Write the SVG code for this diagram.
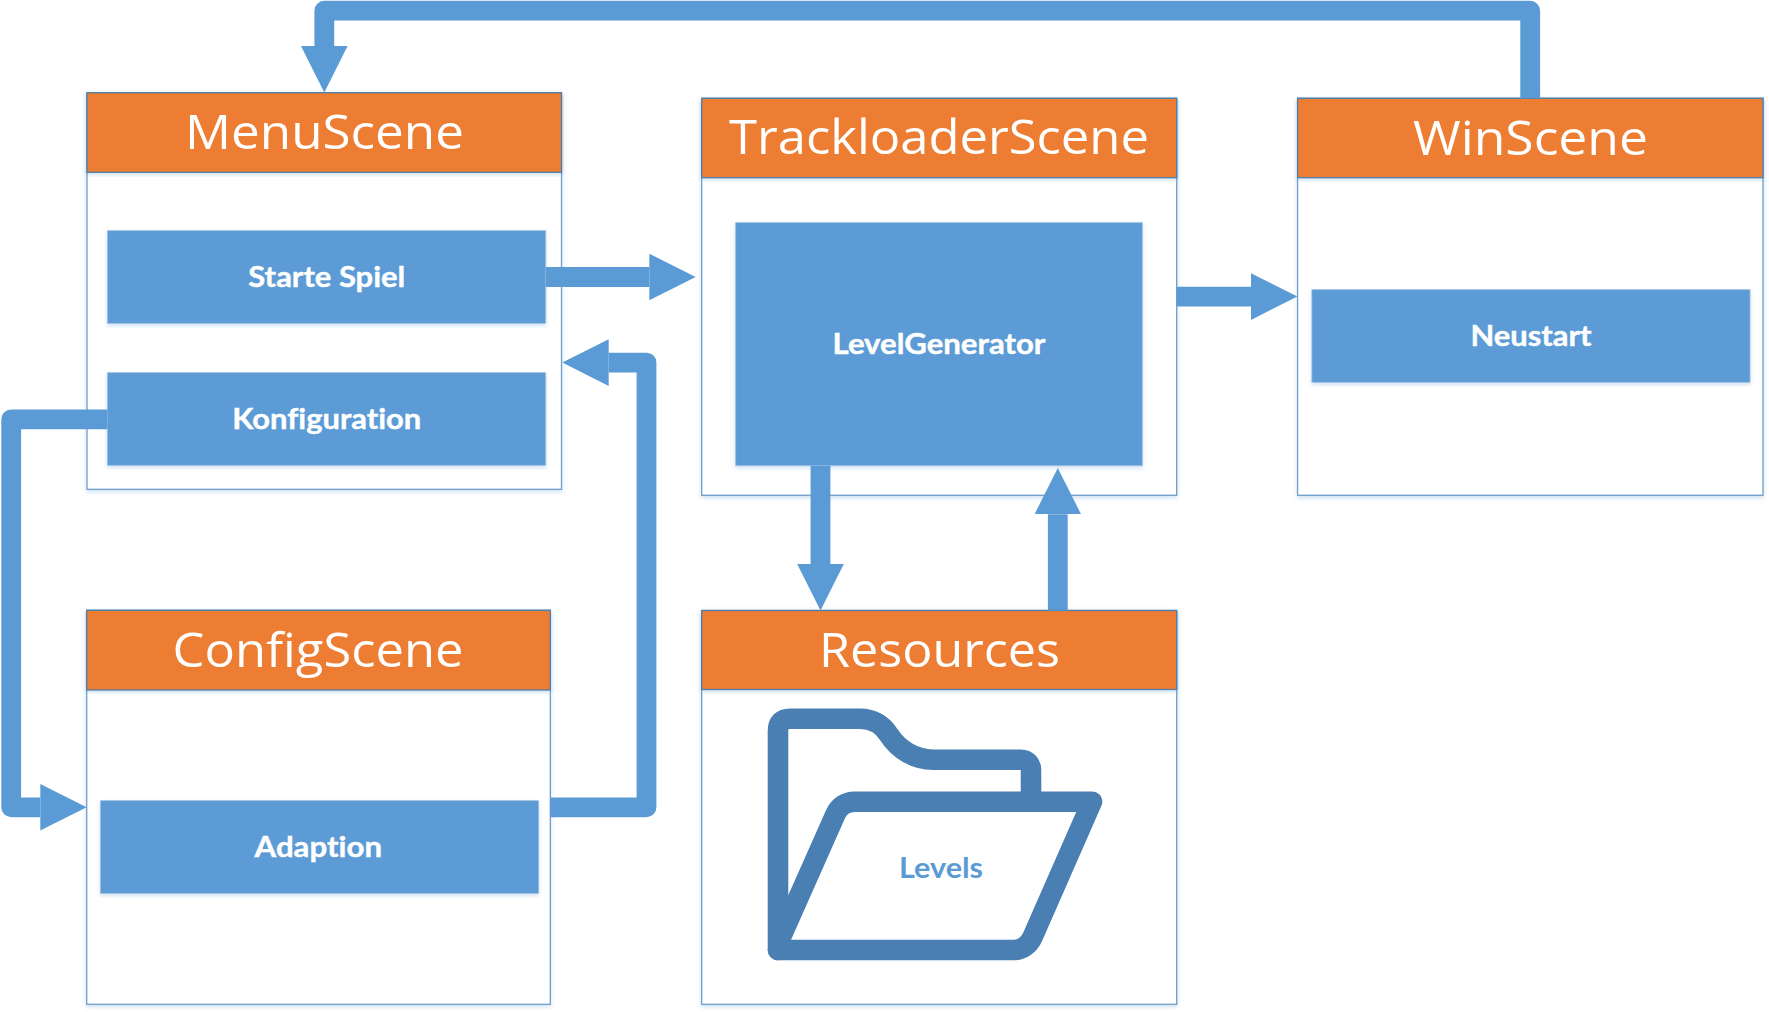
<svg xmlns="http://www.w3.org/2000/svg" width="1769" height="1012" viewBox="0 0 1769 1012">
<style>
text{font-family:"Lato","Open Sans","Liberation Sans",sans-serif;text-anchor:middle;font-variant-ligatures:none}
.body{fill:#fff;stroke:#6f9fcb;stroke-width:1.3;filter:url(#soft)}
.head{fill:#ED7D31;stroke:#4F7FA8;stroke-width:1.3;filter:url(#soft)}
.item{fill:#5B9BD5;stroke:#9dbfe0;stroke-width:.8;filter:url(#soft)}
.title{fill:#fff;font-family:"Open Sans","Lato","Liberation Sans",sans-serif;font-size:47px;font-weight:400}
.label{fill:#fff;font-size:29px;font-weight:700;stroke:#fff;stroke-width:.4}
.conn{fill:none;stroke:#5B9BD5;stroke-width:19.8;stroke-linejoin:round;marker-end:url(#head)}
.folder{fill:none;stroke:#4A7FB3;stroke-width:20.6;stroke-linejoin:round;stroke-linecap:round}
</style>
<defs>
<filter id="soft" x="-5%" y="-5%" width="110%" height="110%"><feDropShadow dx="0" dy="2" stdDeviation="2" flood-color="#5B9BD5" flood-opacity=".3"/></filter>
<marker id="head" markerUnits="userSpaceOnUse" markerWidth="47" markerHeight="47" refX="0" refY="23.3" orient="auto"><path d="M0 0L46.4 23.3L0 46.6Z" fill="#5B9BD5"/></marker>
</defs>
<rect width="1769" height="1012" fill="#fff"/>
<g id="MenuScene">
<rect class="body" x="87" y="92.7" width="474.5" height="396.6"/>
<rect class="head" x="87" y="92.7" width="474.5" height="79.6"/>
<text class="title" x="324.5" y="149" textLength="279" lengthAdjust="spacingAndGlyphs">MenuScene</text>
</g>
<g id="StarteSpiel">
<rect class="item" x="107.5" y="230.7" width="438.2" height="92.6"/>
<text class="label" x="326.8" y="286.7" textLength="157" lengthAdjust="spacingAndGlyphs">Starte Spiel</text>
</g>
<g id="Konfiguration">
<rect class="item" x="107.5" y="372.7" width="438.2" height="92.6"/>
<text class="label" x="326.8" y="429" textLength="189" lengthAdjust="spacingAndGlyphs">Konfiguration</text>
</g>
<g id="TrackloaderScene">
<rect class="body" x="701.7" y="98.3" width="475" height="397"/>
<rect class="head" x="701.7" y="98.3" width="475" height="79.4"/>
<text class="title" x="939" y="154" textLength="420" lengthAdjust="spacingAndGlyphs">TrackloaderScene</text>
</g>
<g id="LevelGenerator">
<rect class="item" x="735.7" y="222.7" width="406.6" height="243"/>
<text class="label" x="939" y="353.5" textLength="213" lengthAdjust="spacingAndGlyphs">LevelGenerator</text>
</g>
<g id="WinScene">
<rect class="body" x="1297.6" y="98.3" width="465.4" height="397"/>
<rect class="head" x="1297.6" y="98.3" width="465.4" height="79.4"/>
<text class="title" x="1530.5" y="154.5" textLength="235" lengthAdjust="spacingAndGlyphs">WinScene</text>
</g>
<g id="Neustart">
<rect class="item" x="1311.9" y="289.7" width="438.1" height="92.6"/>
<text class="label" x="1531" y="346" textLength="121" lengthAdjust="spacingAndGlyphs">Neustart</text>
</g>
<g id="ConfigScene">
<rect class="body" x="86.7" y="610.3" width="463.6" height="394"/>
<rect class="head" x="86.7" y="610.3" width="463.6" height="79.7"/>
<text class="title" x="318" y="667" textLength="291" lengthAdjust="spacingAndGlyphs">ConfigScene</text>
</g>
<g id="Adaption">
<rect class="item" x="100.6" y="800.7" width="438" height="92.6"/>
<text class="label" x="318.3" y="856.7" textLength="127.5" lengthAdjust="spacingAndGlyphs">Adaption</text>
</g>
<g id="Resources">
<rect class="body" x="701.7" y="610.5" width="475" height="393.8"/>
<rect class="head" x="701.7" y="610.5" width="475" height="79"/>
<text class="title" x="939.5" y="667" textLength="241" lengthAdjust="spacingAndGlyphs">Resources</text>
</g>
<g id="Levels">
<path class="folder" d="M778 950V731Q778 718.7 790 718.7H860C873 718.7 883 725 889 735C899 750 915 759.7 933.3 759.7H1021C1027 759.7 1031 764 1031 770V795"/>
<path class="folder" d="M778 950H1013.3C1022 950 1029 945 1032.7 936.7L1092 801.7H855C846 801.7 839 806 835.6 814.1L781 937"/>
<text x="941" y="878" fill="#5B9BD5" font-size="29" font-weight="700" textLength="84" lengthAdjust="spacingAndGlyphs">Levels</text>
</g>
<g id="connectors">
<path class="conn" d="M1530.2 98.3V10.7H324.3V46"/>
<path class="conn" d="M545.7 277H649.3"/>
<path class="conn" d="M107.5 419.3H11.2V807.3H40.3"/>
<path class="conn" d="M550.3 807.3H646.5V362.6H608.7"/>
<path class="conn" d="M1176.7 296.6H1251"/>
<path class="conn" d="M820.5 465.7V564"/>
<path class="conn" d="M1057.8 610.5V514.3"/>
</g>
</svg>
